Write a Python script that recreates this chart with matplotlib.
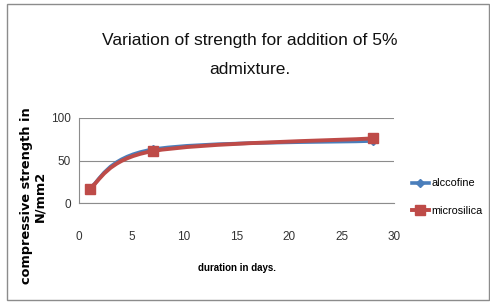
import numpy as np
import matplotlib
matplotlib.use("Agg")
import matplotlib.pyplot as plt
from matplotlib.path import Path
from matplotlib.patches import PathPatch, Rectangle
from matplotlib.lines import Line2D

# data
days = [1, 7, 28]
alccofine = [17, 63, 73]
microsilica = [17, 61, 76]
series_names = ["alccofine", "microsilica"]
x_ticks = [0, 5, 10, 15, 20, 25, 30]
y_ticks = [0, 50, 100]

blue = "#4a7ebb"
red = "#be4b48"


def smooth_path(x, y):
    # Excel style smoothed line: cubic bezier segments through the points
    pts = np.column_stack([x, y]).astype(float)
    verts = [pts[0]]
    codes = [Path.MOVETO]
    n = len(pts)
    for i in range(n - 1):
        p0 = pts[i - 1] if i > 0 else pts[i]
        p1 = pts[i]
        p2 = pts[i + 1]
        p3 = pts[i + 2] if i + 2 < n else pts[i + 1]
        c1 = p1 + (p2 - p0) / 6.0
        c2 = p2 - (p3 - p1) / 6.0
        verts += [c1, c2, p2]
        codes += [Path.CURVE4] * 3
    return Path(verts, codes)


fig = plt.figure(figsize=(4.9, 3.02), dpi=100)
fig.patch.set_facecolor("white")
fig.patches.append(Rectangle((7 / 490, 2 / 302), 482 / 490, 296 / 302,
                             transform=fig.transFigure, fill=False,
                             edgecolor="#8c8c8c", linewidth=1.0))

ax = fig.add_axes([79 / 490, 99 / 302, 315 / 490, 85 / 302])
ax.set_xlim(0, 30)
ax.set_ylim(0, 100)

for vals, col, mk, ms, lw in [(alccofine, blue, "D", 4, 2.6),
                              (microsilica, red, "s", 7, 2.8)]:
    ax.add_patch(PathPatch(smooth_path(days, vals), fill=False,
                           edgecolor=col, linewidth=lw, capstyle="round"))
    ax.plot(days, vals, linestyle="none", marker=mk, markersize=ms, color=col)

ax.set_xticks(x_ticks)
ax.set_yticks(y_ticks)
ax.yaxis.grid(True, color="#8c8c8c", linewidth=0.8)
ax.set_axisbelow(True)
for s in ["top", "right"]:
    ax.spines[s].set_visible(False)
for s in ["left", "bottom"]:
    ax.spines[s].set_color("#8c8c8c")
ax.tick_params(length=0, labelsize=8.5, labelcolor="#333333")
ax.tick_params(axis="x", pad=20)
ax.tick_params(axis="y", pad=6)
for lab in ax.get_xticklabels() + ax.get_yticklabels():
    lab.set_family("Liberation Sans")

fig.text(250 / 490, 1 - 40 / 302, "Variation of strength for addition of 5%",
         ha="center", va="center", fontsize=12.5, family="Liberation Sans",
         color="#111111")
fig.text(250 / 490, 1 - 70 / 302, "admixture.",
         ha="center", va="center", fontsize=12.5, family="Liberation Sans",
         color="#111111")

fig.text(33 / 490, 1 - 196 / 302, "compressive strength in\nN/mm2",
         rotation=90, ha="center", va="center", fontsize=9.3,
         fontweight="bold", family="DejaVu Sans", linespacing=1.0,
         multialignment="center")
fig.text(237 / 490, 1 - 268 / 302, "duration in days.", ha="center",
         va="center", fontsize=7, fontweight="bold", family="Liberation Sans")

handles = [Line2D([], [], color=blue, marker="D", markersize=4, linewidth=2.6),
           Line2D([], [], color=red, marker="s", markersize=7, linewidth=2.8)]
fig.legend(handles, series_names, loc="center left",
           bbox_to_anchor=(402 / 490, 1 - 197 / 302), frameon=False,
           handlelength=1.6, handletextpad=0.2, labelspacing=1.6,
           prop={"family": "Liberation Sans", "size": 7.8})

fig.savefig("out.png", dpi=100)
